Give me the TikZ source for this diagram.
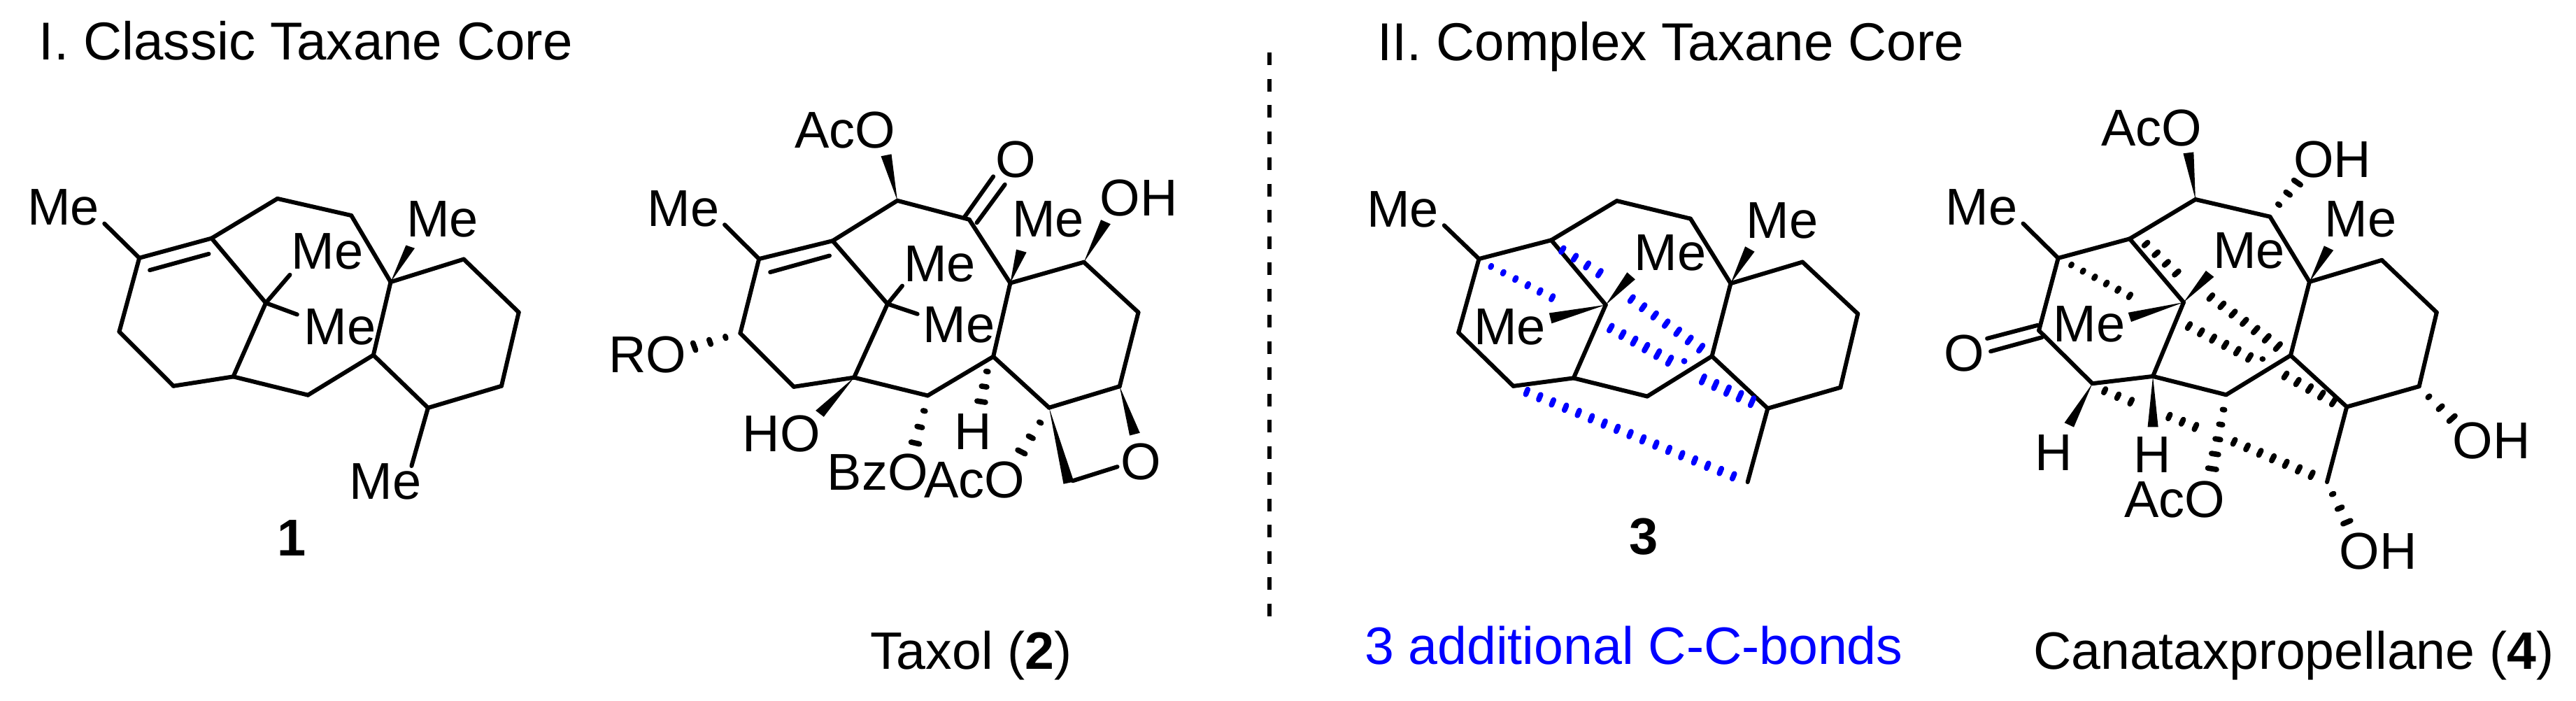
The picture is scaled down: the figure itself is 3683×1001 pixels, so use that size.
\documentclass[tikz,border=0pt]{standalone}
\usepackage{fontspec}
\setmainfont{Liberation Sans}
\usetikzlibrary{calc}

\tikzset{
    bond/.style={line width=1.2pt, line cap=round},
    hashtick/.style={line width=1.55pt, line cap=round},
    atom/.style={inner sep=0pt},
    caption/.style={inner sep=0pt, anchor=base west, font=\fontsize{15.05}{17}\selectfont},
    heading/.style={caption, font=\fontsize{15.25}{17}\selectfont}
}

% Solid wedge from an atom to the middle of its wide end
\newcommand{\wedgebond}[2]{%
    \fill (#1) -- ($(#2)!2.4pt!90:(#1)$) -- ($(#2)!2.4pt!-90:(#1)$) -- cycle;
}
% Ticks from first to last tick centre: [colour]{first}{last}{count}{half start}{half end}
\newcommand{\hashbond}[6][black]{%
    \coordinate (hashfar) at ($(#2)!3!(#3)$);
    \pgfmathtruncatemacro{\hashlast}{#4-1}
    \foreach \i in {0,...,\hashlast} {
        \pgfmathsetmacro{\t}{\i/\hashlast}
        \pgfmathsetmacro{\w}{#5+(#6-#5)*\t}
        \draw[hashtick, #1] ($(#2)!\t!(#3)!\w pt!90:(hashfar)$) -- ($(#2)!\t!(#3)!\w pt!-90:(hashfar)$);
    }
}

\begin{document}
\begin{tikzpicture}[x=0.2pt, y=-0.2pt, font=\fontsize{14.8}{17}\selectfont]
    \useasboundingbox (0,0) rectangle (3683,1001);

    % Headings and captions
    \node[heading] (title1) at (55,85) {I. Classic Taxane Core};
    \node[heading] (title2) at (1968,86) {II. Complex Taxane Core};
    \node[atom, font=\fontsize{14.8}{17}\selectfont\bfseries] (name1) at (417,769) {1};
    \node[atom, font=\fontsize{14.8}{17}\selectfont\bfseries] (name3) at (2350,767) {3};
    \node[caption] (name2) at (1243,956) {Taxol (\textbf{2})};
    \node[caption, blue] (extra) at (1950,949) {3 additional C-C-bonds};
    \node[caption] (name4) at (2906,956) {Canataxpropellane (\textbf{4})};

    % Divider
    \coordinate (divtop) at (1815,75);
    \coordinate (divbot) at (1815,887);
    \draw[line width=1.25pt, dash pattern=on 3.6pt off 3.9pt] (divtop) -- (divbot);

    % Compound 1
    \begin{scope}[xscale=0.574, yscale=0.4464]
        \foreach \n/\x/\y in {a1/347/826, a2/527/763, a3/691/636, a4/875/690, a5/973/903,
            a6/1155/830, a7/1292/1000, a8/1249/1236, a9/1066/1306, a10/930/1137, a11/767/1265,
            a12/581/1206, a13/432/1236, a14/297/1062, a15/662/970,
            a1m/260/716, a15p/722/880, a15q/740/1007, a9m/1025/1492,
            a1i/373/865, a2i/520/813, a5w/1022/790} {
            \coordinate (\n) at (\x,\y);
        }
        \foreach \p/\q in {a1/a2, a2/a3, a3/a4, a4/a5, a5/a6, a6/a7, a7/a8, a8/a9, a9/a10,
            a10/a5, a10/a11, a11/a12, a12/a13, a13/a14, a14/a1, a2/a15, a15/a12,
            a1/a1m, a15/a15p, a15/a15q, a9/a9m, a1i/a2i} {
            \draw[bond] (\p) -- (\q);
        }
        \wedgebond{a5}{a5w}
        \foreach \n/\x/\y in {a1l/158/665, a15k/815/805, a15l/847/1047, a5l/1102/702, a9l/960/1543} {
            \node[atom] (\n) at (\x,\y) {Me};
        }
    \end{scope}

    % Taxol 2
    \begin{scope}[shift={(800,100)}, xscale=0.638, yscale=0.5746]
        \foreach \n/\x/\y in {b1/447/470, b2/612/425, b3/757/325, b4/918/372, b5/1010/530,
            b6/1175/478, b7/1297/603, b8/1255/787, b9/1097/840, b10/972/713, b11/825/810,
            b12/660/765, b13/525/788, b14/405/655, b15/735/582,
            b1m/370/385, b1i/472/503, b2i/605/462, b4p/908/365, b4q/972/265, b4r/935/380, b4s/998/285,
            b15p/768/537, b15q/802/607, b3w/732/212, b5w/1035/450, b6w/1224/378, b12w/583/855,
            b8w/1289/906, b9w/1141/1027, b9c/1150/1022, b9o/1250/987,
            bh1/372/665, bh1e/302/688, bh2/817/848, bh2e/797/928,
            bh3/958/750, bh3e/945/825, bh4/1077/877, bh4e/1035/950} {
            \coordinate (\n) at (\x,\y);
        }
        \foreach \p/\q in {b1/b2, b2/b3, b3/b4, b4/b5, b5/b6, b6/b7, b7/b8, b8/b9, b9/b10,
            b10/b5, b10/b11, b11/b12, b12/b13, b13/b14, b14/b1, b2/b15, b15/b12,
            b1/b1m, b1i/b2i, b4p/b4q, b4r/b4s, b15/b15p, b15/b15q, b9c/b9o} {
            \draw[bond] (\p) -- (\q);
        }
        \wedgebond{b3}{b3w}
        \wedgebond{b5}{b5w}
        \wedgebond{b6}{b6w}
        \wedgebond{b12}{b12w}
        \wedgebond{b8}{b8w}
        \wedgebond{b9}{b9w}
        \hashbond{bh1}{bh1e}{3}{0.5}{1.9}
        \hashbond{bh2}{bh2e}{3}{0.5}{1.9}
        \hashbond{bh3}{bh3e}{3}{0.5}{1.9}
        \hashbond{bh4}{bh4e}{3}{0.5}{1.9}
        \foreach \n/\x/\y/\s in {b1l/278/345/Me, b3l/640/150/AcO, b4l/1022/222/O, b5l/1095/372/Me,
            b6l/1298/318/OH, b15k/852/482/Me, b15l/895/635/Me, b14l/197/708/RO, b12l/497/905/HO,
            b11l/713/1000/BzO, b10l/927/900/H, b9l/930/1020/AcO, b8l/1303/975/O} {
            \node[atom] (\n) at (\x,\y) {\s};
        }
    \end{scope}

    % Compound 3
    \begin{scope}[shift={(1800,0)}, scale=0.638]
        \foreach \n/\x/\y in {c1/493/580, c2/655/538, c3/802/450, c4/967/490, c5/1057/635,
            c6/1218/587, c7/1342/703, c8/1303/868, c9/1140/915, c10/1015/798, c11/870/888,
            c12/705/847, c13/570/865, c14/447/745, c15/777/683,
            c1m/415/505, c9m/1095/1080, c15w/834/618, c15v/653/713, c5w/1100/558,
            ch1/520/597, ch1e/657/667, ch2/680/560, ch2e/763/612, ch3/835/670, ch3e/990/780,
            ch4/788/735, ch4e/920/808, ch5/995/850, ch5e/1105/900, ch6/600/878, ch6e/1063/1067,
            ch7/953/809} {
            \coordinate (\n) at (\x,\y);
        }
        \foreach \p/\q in {c1/c2, c2/c3, c3/c4, c4/c5, c5/c6, c6/c7, c7/c8, c8/c9, c9/c10,
            c10/c5, c10/c11, c11/c12, c12/c13, c13/c14, c14/c1, c2/c15, c15/c12, c1/c1m, c9/c9m} {
            \draw[bond] (\p) -- (\q);
        }
        \wedgebond{c15}{c15w}
        \wedgebond{c15}{c15v}
        \wedgebond{c5}{c5w}
        % the three new bonds
        \hashbond[blue]{ch1}{ch1e}{6}{0.4}{0.9}
        \hashbond[blue]{ch2}{ch2e}{4}{1.1}{1.3}
        \hashbond[blue]{ch3}{ch3e}{7}{1.2}{1.5}
        \hashbond[blue]{ch4}{ch4e}{6}{1.3}{1.7}
        \hashbond[blue]{ch5}{ch5e}{5}{1.6}{1.8}
        \hashbond[blue]{ch6}{ch6e}{17}{1.2}{1.2}
        \fill[blue] (ch7) circle[radius=1.4pt];
        \foreach \n/\x/\y in {c1l/322/470, c15k/922/567, c15l/562/732, c5l/1172/495} {
            \node[atom] (\n) at (\x,\y) {Me};
        }
    \end{scope}

    % Canataxpropellane 4
    \begin{scope}[shift={(2700,100)}, xscale=0.627, yscale=0.5746]
        \foreach \n/\x/\y in {d1/387/468, d2/550/420, d3/700/322, d4/870/365, d5/960/527,
            d6/1125/473, d7/1250/603, d8/1210/787, d9/1045/838, d10/917/710, d11/770/808,
            d12/603/762, d13/465/780, d14/343/648, d15/673/578, d16/1000/1025,
            d1m/307/382, d14p/340/635, d14q/225/668, d14r/350/665, d14s/233/700,
            d3w/684/206, d5w/1004/443, d15w/733/507, d15v/550/615, d13w/412/883, d12w/603/888,
            dh1/890/335, dh1e/932/280, dh2/1232/813, dh2e/1285/867, dh3/1013/1055, dh3e/1045/1125,
            dh4/764/845, dh4e/738/992, dh5/417/485, dh5e/550/562, dh6/587/433, dh6e/657/505,
            dh7/735/565, dh7e/888/688, dh8/685/637, dh8e/823/715, dh9/905/760, dh9e/1015/825,
            dh10/493/798, dh10e/553/825, dh11/640/862, dh11e/700/888, dh12/788/925, dh12e/965/1007,
            dh13/853/719} {
            \coordinate (\n) at (\x,\y);
        }
        \foreach \p/\q in {d1/d2, d2/d3, d3/d4, d4/d5, d5/d6, d6/d7, d7/d8, d8/d9, d9/d10,
            d10/d5, d10/d11, d11/d12, d12/d13, d13/d14, d14/d1, d2/d15, d15/d12, d9/d16,
            d1/d1m, d14p/d14q, d14r/d14s} {
            \draw[bond] (\p) -- (\q);
        }
        \wedgebond{d3}{d3w}
        \wedgebond{d5}{d5w}
        \wedgebond{d15}{d15w}
        \wedgebond{d15}{d15v}
        \wedgebond{d13}{d13w}
        \wedgebond{d12}{d12w}
        \hashbond{dh1}{dh1e}{3}{0.5}{1.9}
        \hashbond{dh2}{dh2e}{3}{0.5}{1.9}
        \hashbond{dh3}{dh3e}{3}{0.5}{1.9}
        \hashbond{dh4}{dh4e}{5}{0.5}{2.0}
        \hashbond{dh5}{dh5e}{6}{0.4}{0.9}
        \hashbond{dh6}{dh6e}{4}{1.1}{1.3}
        \hashbond{dh7}{dh7e}{7}{1.3}{1.7}
        \hashbond{dh8}{dh8e}{6}{1.25}{1.5}
        \hashbond{dh9}{dh9e}{5}{1.3}{1.7}
        \hashbond{dh10}{dh10e}{3}{1.0}{1.2}
        \hashbond{dh11}{dh11e}{3}{1.1}{1.3}
        \hashbond{dh12}{dh12e}{7}{1.2}{1.4}
        \fill (dh13) circle[radius=1.4pt];
        \foreach \n/\x/\y/\s in {d1l/212/342/Me, d3l/600/145/AcO, d4l/1012/222/OH, d5l/1077/372/Me,
            d15k/822/450/Me, d15l/458/632/Me, d14l/173/705/O, d13l/377/952/H, d12l/602/958/H,
            d11l/653/1068/AcO, d8l/1375/922/OH, d16l/1117/1197/OH} {
            \node[atom] (\n) at (\x,\y) {\s};
        }
    \end{scope}
\end{tikzpicture}
\end{document}
